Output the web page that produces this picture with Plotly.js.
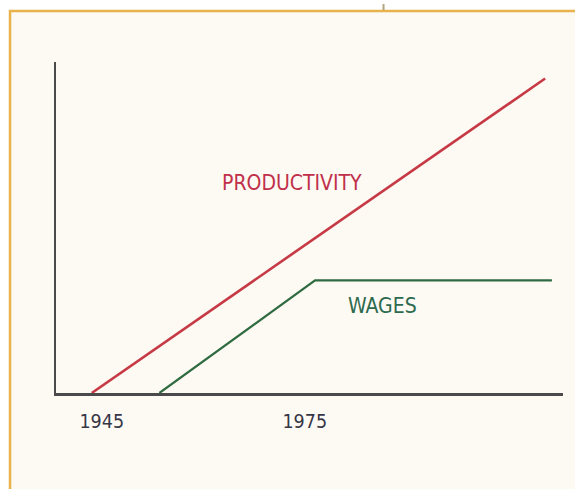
<!DOCTYPE html>
<html>
<head>
<meta charset="utf-8">
<script src="https://cdn.plot.ly/plotly-3.0.1.min.js"></script>
<style>html,body{margin:0;padding:0;background:#fff;}#chart{width:575px;height:489px;}</style>
</head>
<body>
<div id="chart"></div>
<script>
// Data (schematic index values)
const productivityYears = [1945, 2012];
const productivityValues = [0, 95];
const wagesYears = [1955, 1978, 2013];
const wagesValues = [0, 34, 34];
const tickYears = [1945, 1975];
const tickLabels = ['1945', '1975'];
const seriesNames = ['PRODUCTIVITY', 'WAGES'];

const FONT = '"DejaVu Sans Condensed", "Liberation Sans Narrow", Arial, sans-serif';

const traces = [
  {x: productivityYears, y: productivityValues, mode: 'lines', name: seriesNames[0],
   line: {color: '#c63a46', width: 2.6}, hoverinfo: 'skip'},
  {x: wagesYears, y: wagesValues, mode: 'lines', name: seriesNames[1],
   line: {color: '#2f6b40', width: 2.2}, hoverinfo: 'skip'}
];

const layout = {
  width: 575, height: 489,
  margin: {l: 56, r: 12, t: 62, b: 96},
  paper_bgcolor: '#ffffff',
  plot_bgcolor: 'rgba(0,0,0,0)',
  showlegend: false,
  xaxis: {
    range: [1939.72, 2014.64], showgrid: false, zeroline: false,
    showline: true, linecolor: '#4a4a4a', linewidth: 2.5,
    tickmode: 'array', tickvals: tickYears, ticktext: tickLabels, ticks: '',
    ticklabelshift: 10, ticklabelstandoff: 9,
    tickfont: {family: FONT, size: 19.5, color: '#363646'}
  },
  yaxis: {
    range: [0, 100], showgrid: false, zeroline: false,
    showline: true, linecolor: '#4a4a4a', linewidth: 2.5,
    showticklabels: false, ticks: ''
  },
  shapes: [
    {type: 'rect', xref: 'paper', yref: 'paper', x0: -0.0907, x1: 1.045, y0: -0.33, y1: 1.154,
     line: {color: '#e8b24c', width: 2.5}, fillcolor: '#fdf9f3', layer: 'below'},
    {type: 'line', xref: 'paper', yref: 'paper', x0: 0.646, x1: 0.646, y0: 1.157, y1: 1.175,
     line: {color: '#b3a27e', width: 2}, layer: 'below'}
  ],
  annotations: [
    {x: 1974.6, y: 63.3, xref: 'x', yref: 'y', text: seriesNames[0], showarrow: false,
     font: {family: FONT, size: 21, color: '#c0304a'}},
    {x: 1987.9, y: 26.4, xref: 'x', yref: 'y', text: seriesNames[1], showarrow: false,
     font: {family: FONT, size: 21, color: '#2e6a4e'}}
  ]
};

Plotly.newPlot('chart', traces, layout, {staticPlot: true, displayModeBar: false});
</script>
</body>
</html>
